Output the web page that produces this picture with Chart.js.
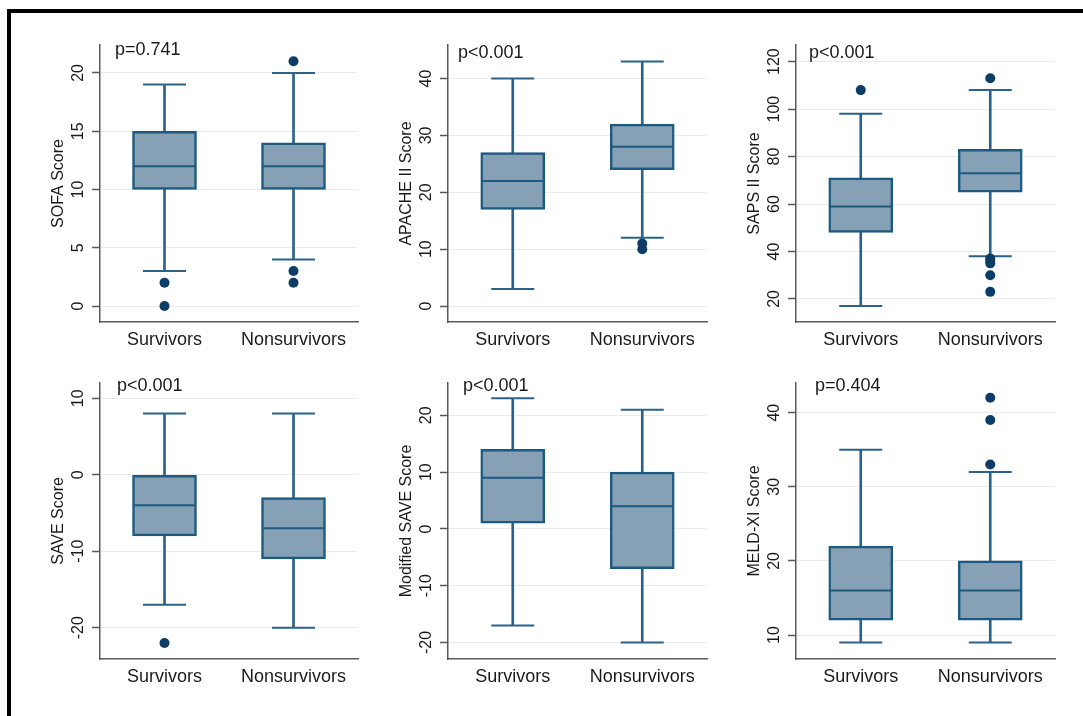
<!DOCTYPE html>
<html>
<head>
<meta charset="utf-8">
<script src="https://cdn.jsdelivr.net/npm/chart.js@4.4.1/dist/chart.umd.min.js"></script>
<style>
  body { margin: 0; background: #fff; width: 1083px; height: 716px; overflow: hidden; position: relative; }
  .frame { position: absolute; left: 7px; top: 9px; width: 1200px; height: 800px; border-top: 4px solid #000; border-left: 4px solid #000; }
  .panel { position: absolute; }
</style>
</head>
<body>
<div class="frame"></div>
<canvas class="panel" id="c0"></canvas>
<canvas class="panel" id="c1"></canvas>
<canvas class="panel" id="c2"></canvas>
<canvas class="panel" id="c3"></canvas>
<canvas class="panel" id="c4"></canvas>
<canvas class="panel" id="c5"></canvas>
<script>
// --- Data (min, q1, median, q3, max per group) ---
const groups = ['Survivors', 'Nonsurvivors'];

const sofaBox = [[3, 10, 12, 15, 19], [4, 10, 12, 14, 20]];
const sofaOut = [[2, 0], [21, 3, 2]];
const sofaTicks = [0, 5, 10, 15, 20];

const apacheBox = [[3, 17, 22, 27, 40], [12, 24, 28, 32, 43]];
const apacheOut = [[], [11, 10]];
const apacheTicks = [0, 10, 20, 30, 40];

const sapsBox = [[17, 48, 59, 71, 98], [38, 65, 73, 83, 108]];
const sapsOut = [[108], [113, 37, 36, 35, 30, 23]];
const sapsTicks = [20, 40, 60, 80, 100, 120];

const saveBox = [[-17, -8, -4, 0, 8], [-20, -11, -7, -3, 8]];
const saveOut = [[-22], []];
const saveTicks = [-20, -10, 0, 10];

const msaveBox = [[-17, 1, 9, 14, 23], [-20, -7, 4, 10, 21]];
const msaveOut = [[], []];
const msaveTicks = [-20, -10, 0, 10, 20];

const meldBox = [[9, 12, 16, 22, 35], [9, 12, 16, 20, 32]];
const meldOut = [[], [42, 39, 33]];
const meldTicks = [10, 20, 30, 40];

// --- Panel setup ---
const panels = [
  { title: 'SOFA Score', p: 'p=0.741', box: sofaBox, out: sofaOut, ticks: sofaTicks, min: -1.37, max: 22.4 },
  { title: 'APACHE II Score', p: 'p<0.001', box: apacheBox, out: apacheOut, ticks: apacheTicks, min: -2.8, max: 45.9 },
  { title: 'SAPS II Score', p: 'p<0.001', box: sapsBox, out: sapsOut, ticks: sapsTicks, min: 10.3, max: 127 },
  { title: 'SAVE Score', p: 'p<0.001', box: saveBox, out: saveOut, ticks: saveTicks, min: -24.1, max: 12 },
  { title: 'Modified SAVE Score', p: 'p<0.001', box: msaveBox, out: msaveOut, ticks: msaveTicks, min: -22.9, max: 25.7 },
  { title: 'MELD-XI Score', p: 'p=0.404', box: meldBox, out: meldOut, ticks: meldTicks, min: 6.77, max: 44 }
];

// chart area of each panel on the page
const areas = [
  { l: 100, t: 45, r: 358, b: 322, px: 15, py: 5 },
  { l: 448, t: 45, r: 707, b: 322, px: 10, py: 8 },
  { l: 796, t: 45, r: 1055, b: 322, px: 13, py: 8 },
  { l: 100, t: 383, r: 358, b: 659, px: 17, py: 3 },
  { l: 448, t: 383, r: 707, b: 659, px: 15, py: 3 },
  { l: 796, t: 383, r: 1055, b: 659, px: 19, py: 3 }
];

const FONT = '"Liberation Sans", Arial, sans-serif';
const TEXT = '#1a1a1a';
const AXIS = '#5a5a5a';
const BOX_FILL = '#86a0b5';
const BOX_LINE = '#1d5a80';
const WHISKER = '#2b6289';
const DOT = '#0c3d66';

const Y_W = 51, PAD_L = 5, PAD_T = 20, PAD_R = 5, X_H = 45, TICK_LEN = 8;

const measureCtx = document.createElement('canvas').getContext('2d');
measureCtx.font = '16px ' + FONT;

// drop the label overhang padding so the plot area lands where it should
function noPadding(scale) {
  scale.paddingLeft = 0;
  scale.paddingRight = 0;
  scale.paddingTop = 0;
  scale.paddingBottom = 0;
}

const pValuePlugin = {
  id: 'pvalue',
  afterDraw(chart, args, opts) {
    const { ctx, chartArea } = chart;
    ctx.save();
    ctx.font = '18px ' + FONT;
    ctx.fillStyle = TEXT;
    ctx.textAlign = 'left';
    ctx.textBaseline = 'middle';
    ctx.fillText(opts.text, chartArea.left + opts.dx, chartArea.top + opts.dy);
    ctx.restore();
  }
};

function buildPanel(i) {
  const p = panels[i];
  const a = areas[i];
  const canvas = document.getElementById('c' + i);
  const w = (a.r - a.l) + Y_W + PAD_L + PAD_R;
  const h = (a.b - a.t) + PAD_T + X_H;
  canvas.style.left = (a.l - Y_W - PAD_L) + 'px';
  canvas.style.top = (a.t - PAD_T) + 'px';
  canvas.style.width = w + 'px';
  canvas.style.height = h + 'px';
  canvas.width = w;
  canvas.height = h;

  // keep rotated tick labels at a fixed distance from the axis
  const widest = Math.max(...p.ticks.map(v => measureCtx.measureText(String(v)).width));
  const tickPad = 13 - widest / 2;

  const outliers = p.out.flatMap((vals, g) => vals.map(v => ({ x: groups[g], y: v })));

  new Chart(canvas, {
    type: 'bar',
    data: {
      labels: groups,
      datasets: [
        {
          label: 'whisker',
          data: p.box.map(b => [b[0], b[4]]),
          backgroundColor: WHISKER,
          borderWidth: 0,
          barThickness: 2,
          grouped: false,
          order: 5
        },
        {
          label: 'box',
          data: p.box.map(b => [b[1], b[3]]),
          backgroundColor: BOX_FILL,
          borderColor: BOX_LINE,
          borderWidth: 2.5,
          borderSkipped: false,
          barThickness: 64,
          grouped: false,
          order: 4
        },
        {
          type: 'line',
          label: 'low cap',
          data: p.box.map(b => b[0]),
          showLine: false,
          pointStyle: 'line',
          pointRadius: 21.5,
          pointBorderWidth: 2,
          pointBorderColor: WHISKER,
          order: 3
        },
        {
          type: 'line',
          label: 'high cap',
          data: p.box.map(b => b[4]),
          showLine: false,
          pointStyle: 'line',
          pointRadius: 21.5,
          pointBorderWidth: 2,
          pointBorderColor: WHISKER,
          order: 2
        },
        {
          type: 'line',
          label: 'median',
          data: p.box.map(b => b[2]),
          showLine: false,
          pointStyle: 'line',
          pointRadius: 31,
          pointBorderWidth: 2,
          pointBorderColor: BOX_LINE,
          order: 1
        },
        {
          type: 'line',
          label: 'outliers',
          data: outliers,
          showLine: false,
          pointStyle: 'circle',
          pointRadius: 5,
          pointBorderWidth: 0,
          pointBackgroundColor: DOT,
          order: 0
        }
      ]
    },
    options: {
      responsive: false,
      animation: false,
      events: [],
      layout: { autoPadding: false, padding: { left: PAD_L, top: PAD_T, right: PAD_R, bottom: 0 } },
      plugins: {
        legend: { display: false },
        tooltip: { enabled: false },
        pvalue: { text: p.p, dx: a.px, dy: a.py }
      },
      scales: {
        x: {
          offset: true,
          grid: { display: false, drawTicks: false },
          border: { display: true, color: AXIS, width: 1.5 },
          ticks: { color: TEXT, font: { family: FONT, size: 18 }, padding: 7, maxRotation: 0 },
          afterFit(scale) { scale.height = X_H; noPadding(scale); }
        },
        y: {
          min: p.min,
          max: p.max,
          grid: { color: '#ebebeb', lineWidth: 1, tickColor: AXIS, tickLength: TICK_LEN, tickWidth: 1.5 },
          border: { display: true, color: AXIS, width: 1.5 },
          ticks: {
            color: TEXT,
            font: { family: FONT, size: 16 },
            minRotation: 90,
            maxRotation: 90,
            crossAlign: 'center',
            padding: tickPad,
            callback: v => String(v)
          },
          title: {
            display: true,
            text: p.title,
            color: TEXT,
            font: { family: FONT, size: 16 },
            padding: { top: 0, bottom: 0 }
          },
          afterBuildTicks(scale) { scale.ticks = p.ticks.map(v => ({ value: v })); },
          afterFit(scale) { scale.width = Y_W; noPadding(scale); }
        }
      }
    },
    plugins: [pValuePlugin]
  });
}

panels.forEach((p, i) => buildPanel(i));
</script>
</body>
</html>
